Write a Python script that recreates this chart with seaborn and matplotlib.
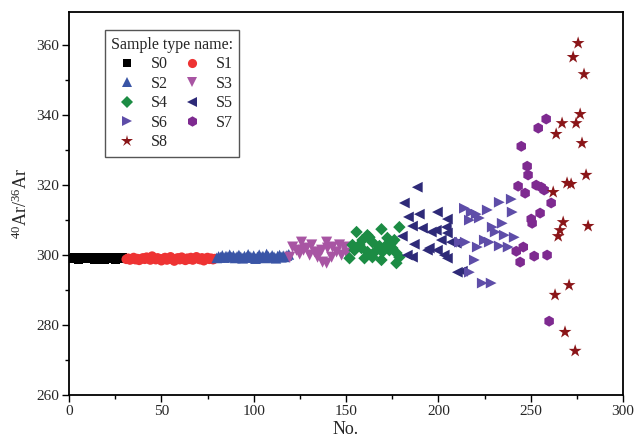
import numpy as np
import pandas as pd
import matplotlib
matplotlib.use("Agg")
import matplotlib.pyplot as plt
import seaborn as sns
from matplotlib.ticker import MultipleLocator

# ---- data: 40Ar/36Ar ratio by sample number, grouped by sample type ----
s0_no = list(range(1, 31))
s0_val = [299.1, 298.9, 299.2, 299.0, 298.8, 299.3, 299.1, 298.9, 299.0, 299.2,
          298.9, 299.1, 299.0, 298.8, 299.2, 298.7, 298.6, 298.7, 298.8, 299.2,
          299.1, 298.9, 299.0, 299.3, 298.8, 299.0, 299.1, 298.9, 299.2, 299.0]

s1_no = list(range(31, 80))
s1_val = [298.8, 299.1, 298.6, 298.9, 299.3, 298.7, 299.0, 298.5, 298.9, 299.2,
          298.8, 299.4, 299.0, 298.6, 299.7, 299.1, 298.7, 299.2, 298.9, 298.4,
          299.0, 299.3, 298.6, 298.9, 299.5, 298.8, 298.3, 299.0, 299.2, 298.7,
          299.4, 298.9, 298.5, 299.1, 298.8, 299.3, 298.6, 299.0, 299.5, 298.9,
          298.7, 299.2, 298.4, 299.0, 299.3, 298.8, 299.1, 298.7, 299.0]

s2_no = list(range(80, 120))
s2_val = [299.2, 299.6, 299.4, 299.9, 299.3, 299.7, 299.5, 300.1, 299.4, 299.8,
          299.2, 299.6, 300.0, 299.5, 299.1, 299.7, 299.4, 300.2, 299.6, 299.3,
          299.8, 299.0, 299.5, 300.1, 299.4, 299.7, 299.2, 300.3, 299.6, 299.3,
          299.9, 299.5, 299.1, 299.7, 300.0, 299.4, 299.8, 299.5, 299.9, 300.2]

s3_no = [119.5, 121.1, 123.2, 124.9, 125.9, 127.0, 128.6, 130.3, 131.4, 133.0,
         134.6, 135.7, 136.8, 137.3, 139.5, 139.5, 140.0, 142.2, 142.7, 144.9,
         146.5, 147.6, 149.2, 150.3]
s3_val = [299.4, 302.3, 301.4, 300.3, 303.7, 301.4, 302.0, 300.0, 302.9, 300.9,
          299.4, 300.6, 301.4, 298.0, 303.7, 297.7, 302.0, 299.4, 302.3, 300.9,
          302.9, 300.0, 302.3, 300.6]

s4_no = [151.9, 153.5, 154.6, 155.7, 157.3, 158.4, 158.9, 160.0, 161.6, 161.6,
         162.7, 164.3, 164.3, 166.5, 168.1, 169.2, 169.2, 169.7, 171.4, 172.4,
         173.5, 174.6, 175.1, 176.2, 177.3, 177.3, 178.9, 178.9]
s4_val = [299.1, 302.9, 301.4, 306.6, 302.9, 302.0, 304.3, 299.1, 300.9, 305.7,
          305.1, 303.7, 299.4, 301.4, 302.6, 307.4, 298.6, 300.9, 302.6, 304.9,
          301.4, 303.4, 302.0, 304.3, 300.6, 297.7, 308.0, 299.4]

s5_no = [180.5, 181.6, 183.2, 183.8, 186.0, 186.0, 187.0, 188.6, 189.7, 191.4,
         194.1, 195.1, 196.2, 198.9, 199.5, 199.5, 201.6, 203.2, 204.3, 204.9,
         204.9, 204.9, 207.0, 209.7, 210.3, 213.0]
s5_val = [305.4, 314.9, 300.0, 310.9, 308.3, 299.4, 303.1, 319.4, 311.7, 307.7,
          301.4, 302.0, 306.6, 307.1, 312.3, 301.4, 304.3, 300.0, 308.0, 310.3,
          306.3, 299.1, 303.7, 303.4, 295.1, 295.4]

s6_no = [211.4, 214.1, 214.6, 216.8, 216.8, 217.8, 219.5, 220.5, 221.1, 222.2,
         223.8, 224.9, 226.5, 227.6, 228.6, 229.2, 230.8, 233.0, 233.0, 234.6,
         235.7, 237.8, 239.5, 240.0, 241.1]
s6_val = [303.7, 313.4, 303.7, 310.0, 295.1, 312.3, 298.6, 311.7, 302.3, 310.6,
          292.0, 304.3, 312.9, 303.7, 292.0, 308.0, 306.6, 315.1, 302.6, 309.1,
          305.7, 302.3, 316.0, 312.3, 305.1]

s7_no = [242.2, 243.2, 244.3, 244.9, 246.0, 247.0, 248.1, 248.6, 250.3, 250.8,
         251.9, 253.0, 254.1, 255.1, 255.7, 257.3, 258.4, 258.9, 260.0, 261.1]
s7_val = [301.1, 319.7, 298.0, 331.1, 302.3, 317.7, 325.4, 322.9, 310.3, 309.1,
          299.7, 320.0, 336.3, 312.0, 319.4, 318.6, 338.9, 300.0, 281.1, 314.9]

s8_no = [262.2, 263.2, 263.8, 264.9, 265.9, 267.0, 267.6, 268.6, 269.7, 270.8,
         271.9, 273.0, 274.1, 274.6, 275.7, 276.8, 277.8, 278.9, 280.0, 281.1]
s8_val = [318.0, 288.6, 334.6, 305.4, 307.1, 337.7, 309.4, 278.0, 320.6, 291.4,
          320.3, 356.6, 272.6, 337.7, 360.6, 340.3, 332.0, 351.7, 322.9, 308.3]

series = [
    ("S0", s0_no, s0_val, "s", "#000000", 42),
    ("S1", s1_no, s1_val, "o", "#EE3333", 48),
    ("S2", s2_no, s2_val, "^", "#3A55A6", 60),
    ("S3", s3_no, s3_val, "v", "#A855A3", 64),
    ("S4", s4_no, s4_val, "D", "#1C8C44", 40),
    ("S5", s5_no, s5_val, "<", "#2E2A78", 60),
    ("S6", s6_no, s6_val, ">", "#5E4DA8", 60),
    ("S7", s7_no, s7_val, "h", "#7E2A90", 62),
    ("S8", s8_no, s8_val, "*", "#8A1518", 95),
]

sns.set_theme(style="white")
plt.rcParams["font.family"] = ["Liberation Serif", "DejaVu Serif"]
plt.rcParams["mathtext.fontset"] = "custom"
plt.rcParams["mathtext.rm"] = "Liberation Serif"
plt.rcParams["mathtext.it"] = "Liberation Serif:italic"

fig = plt.figure(figsize=(6.35, 4.41), dpi=100)
ax = fig.add_axes([0.1087, 0.1043, 0.8724, 0.8685])

handles = {}
for name, xs, ys, mk, col, sz in series:
    df = pd.DataFrame({"No.": xs, "ratio": ys})
    sns.scatterplot(data=df, x="No.", y="ratio", marker=mk, color=col, s=sz,
                    edgecolor="none", linewidth=0, ax=ax, label=name,
                    legend=False, zorder=3)
    handles[name] = plt.Line2D([], [], linestyle="none", marker=mk,
                               color=col, markersize=np.sqrt(sz) * 0.95,
                               markeredgewidth=0)

ax.set_xlim(0, 300)
ax.set_ylim(260, 369.5)
ax.xaxis.set_major_locator(MultipleLocator(50))
ax.xaxis.set_minor_locator(MultipleLocator(25))
ax.yaxis.set_major_locator(MultipleLocator(20))
ax.yaxis.set_minor_locator(MultipleLocator(10))
ax.tick_params(which="both", direction="out", bottom=True, left=True,
               top=False, right=False, color="black")
ax.tick_params(which="major", length=5, width=1.0, labelsize=11, pad=2)
ax.tick_params(which="minor", length=3, width=1.0)
for sp in ax.spines.values():
    sp.set_color("black")
    sp.set_linewidth(1.3)

ax.set_xlabel("No.", fontsize=13, labelpad=2)
ax.set_ylabel(r"$^{40}$Ar/$^{36}$Ar", fontsize=13, labelpad=4)

order = ["S0", "S2", "S4", "S6", "S8", "S1", "S3", "S5", "S7"]
leg = ax.legend([handles[k] for k in order], order, ncol=2,
                title="Sample type name:", title_fontsize=11.5, fontsize=11.5,
                loc="upper left", bbox_to_anchor=(0.05, 0.973),
                frameon=True, fancybox=False, framealpha=1,
                edgecolor="#555555", handletextpad=0.5, columnspacing=0.5,
                labelspacing=0.22, borderpad=0.4, handlelength=2.0)
leg.get_frame().set_linewidth(1.0)

fig.savefig("out.png", dpi=100)
